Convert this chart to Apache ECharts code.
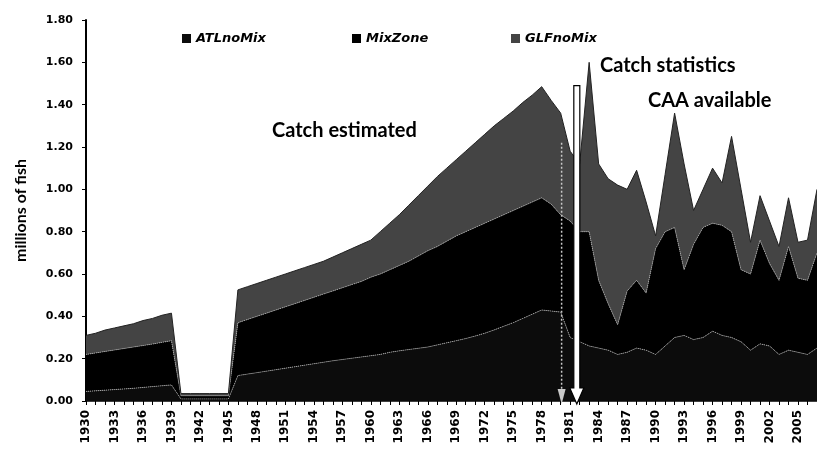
<!DOCTYPE html>
<html>
<head>
<meta charset="utf-8">
<script src="https://cdn.jsdelivr.net/npm/echarts@6/dist/echarts.min.js"></script>
<style>
  html, body { margin: 0; padding: 0; background: #fff; }
  #chart { width: 817px; height: 467px; }
</style>
</head>
<body>
<div id="chart"></div>
<script>
// years on the x axis
var years = []
for (var y = 1930; y <= 2007; y++) years.push(String(y))

// millions of fish, stacked bottom -> top
var atlNoMix = [
  0.045, 0.048, 0.051, 0.054, 0.057, 0.060, 0.064, 0.068, 0.072, 0.076,
  0.010, 0.010, 0.010, 0.010, 0.010, 0.010,
  0.120, 0.127, 0.134, 0.141, 0.148, 0.155, 0.162, 0.169, 0.176, 0.183,
  0.190, 0.196, 0.202, 0.208, 0.214, 0.220, 0.230, 0.237, 0.243, 0.249,
  0.255, 0.265, 0.275, 0.285, 0.295, 0.307, 0.320, 0.336, 0.353, 0.370,
  0.390, 0.410, 0.430, 0.425, 0.420, 0.300, 0.280, 0.260, 0.250, 0.240,
  0.220, 0.230, 0.250, 0.240, 0.220, 0.260, 0.300, 0.310, 0.290, 0.300,
  0.330, 0.310, 0.300, 0.280, 0.240, 0.270, 0.260, 0.220, 0.240, 0.230,
  0.220, 0.250
]
var mixZone = [
  0.175, 0.179, 0.183, 0.187, 0.191, 0.195, 0.198, 0.201, 0.205, 0.209,
  0.015, 0.015, 0.015, 0.015, 0.015, 0.015,
  0.250, 0.258, 0.266, 0.274, 0.282, 0.290, 0.298, 0.306, 0.314, 0.322,
  0.330, 0.339, 0.348, 0.357, 0.371, 0.380, 0.390, 0.403, 0.417, 0.436,
  0.455, 0.465, 0.480, 0.495, 0.505, 0.513, 0.520, 0.524, 0.527, 0.530,
  0.530, 0.530, 0.530, 0.505, 0.460, 0.550, 0.520, 0.540, 0.320, 0.220,
  0.140, 0.290, 0.320, 0.270, 0.500, 0.540, 0.520, 0.310, 0.450, 0.520,
  0.510, 0.520, 0.500, 0.340, 0.360, 0.490, 0.390, 0.350, 0.490, 0.350,
  0.350, 0.450
]
var glfNoMix = [
  0.090, 0.093, 0.101, 0.104, 0.107, 0.110, 0.118, 0.121, 0.128, 0.130,
  0.010, 0.010, 0.010, 0.010, 0.010, 0.010,
  0.155, 0.155, 0.155, 0.155, 0.155, 0.155, 0.155, 0.155, 0.155, 0.155,
  0.160, 0.165, 0.170, 0.175, 0.175, 0.200, 0.220, 0.240, 0.265, 0.285,
  0.305, 0.330, 0.345, 0.360, 0.380, 0.400, 0.420, 0.440, 0.455, 0.470,
  0.490, 0.505, 0.525, 0.490, 0.480, 0.330, 0.320, 0.800, 0.550, 0.590,
  0.660, 0.480, 0.520, 0.430, 0.060, 0.270, 0.540, 0.500, 0.160, 0.180,
  0.260, 0.200, 0.450, 0.380, 0.150, 0.210, 0.200, 0.160, 0.230, 0.170,
  0.190, 0.300
]

var chart = echarts.init(document.getElementById('chart'))

var legendText = {
  fontFamily: 'DejaVu Sans',
  fontWeight: 'bold',
  fontStyle: 'italic',
  fontSize: 13,
  color: '#000'
}
function legendAt(name, left) {
  return {
    data: [name], left: left, top: 27,
    icon: 'rect', itemWidth: 9, itemHeight: 9, itemGap: 0,
    textStyle: legendText
  }
}

function areaSeries(name, data, color, line) {
  return {
    name: name,
    type: 'line',
    stack: 'total',
    data: data,
    symbol: 'none',
    color: color,
    lineStyle: line,
    areaStyle: { color: color, opacity: 1 },
    emphasis: { disabled: true }
  }
}

var option = {
  animation: false,
  backgroundColor: '#fff',
  grid: { left: 86, right: -6, top: 20, bottom: 66 },
  legend: [
    legendAt('ATLnoMix', 177),
    legendAt('MixZone', 347),
    legendAt('GLFnoMix', 506)
  ],
  xAxis: {
    type: 'category',
    data: years,
    boundaryGap: false,
    axisLine: { lineStyle: { color: '#000', width: 1.5 } },
    axisTick: { show: true, interval: 0, length: 4, lineStyle: { color: '#000' } },
    axisLabel: {
      interval: 2,
      rotate: 90,
      margin: 9,
      color: '#000',
      fontFamily: 'DejaVu Sans',
      fontWeight: 'bold',
      fontSize: 12
    },
    splitLine: { show: false }
  },
  yAxis: {
    type: 'value',
    min: 0,
    max: 1.8,
    interval: 0.2,
    name: 'millions of fish',
    nameLocation: 'middle',
    nameGap: 57,
    nameTextStyle: { fontFamily: 'Lato', fontWeight: 'bold', fontSize: 16, color: '#000' },
    axisLine: { show: true, lineStyle: { color: '#000', width: 2 } },
    axisTick: { show: true, length: 4, lineStyle: { color: '#000' } },
    axisLabel: {
      margin: 13,
      color: '#000',
      fontFamily: 'DejaVu Sans',
      fontWeight: 'bold',
      fontSize: 11,
      formatter: function (v) { return v.toFixed(2) }
    },
    splitLine: { show: false }
  },
  series: [
    areaSeries('ATLnoMix', atlNoMix, '#0c0c0c', { color: '#a8a8a8', width: 1, type: 'dotted' }),
    areaSeries('MixZone', mixZone, '#000000', { color: '#a8a8a8', width: 1, type: 'dotted' }),
    areaSeries('GLFnoMix', glfNoMix, '#444444', { color: '#222', width: 1 })
  ]
}
chart.setOption(option)

// annotations: arrows at the switch from estimated catch to statistics
function pos(idx, val) {
  var i0 = Math.floor(idx)
  var f = idx - i0
  var a = chart.convertToPixel({ gridIndex: 0 }, [i0, val])
  var b = chart.convertToPixel({ gridIndex: 0 }, [i0 + 1, val])
  return [a[0] + (b[0] - a[0]) * f, a[1]]
}
var top1 = pos(51.7, 1.49)
var bot1 = pos(51.7, 0)
var top2 = pos(50.1, 1.22)
var bot2 = pos(50.1, 0)
var ax = top1[0]
var tipY = bot1[1] + 3

var texts = { fontFamily: 'Lato', fontWeight: 'bold', fontSize: 20, fill: '#000' }

chart.setOption({
  graphic: [
    {
      type: 'polyline',
      shape: { points: [[top2[0], top2[1]], [bot2[0], bot2[1] - 8]] },
      style: { stroke: '#c8c8c8', lineWidth: 1.5, lineDash: [2, 2] },
      z: 100
    },
    {
      type: 'polygon',
      shape: { points: [[bot2[0] - 4, bot2[1] - 12], [bot2[0] + 4, bot2[1] - 12], [bot2[0], bot2[1] + 3]] },
      style: { fill: '#c8c8c8' },
      z: 100
    },
    {
      type: 'polygon',
      shape: {
        points: [
          [ax - 3, top1[1]], [ax + 3, top1[1]], [ax + 3, tipY - 16],
          [ax + 7, tipY - 16], [ax, tipY], [ax - 7, tipY - 16], [ax - 3, tipY - 16]
        ]
      },
      style: { fill: '#fff', stroke: '#000', lineWidth: 1.2 },
      z: 101
    },
    { type: 'text', left: 272, top: 121, style: Object.assign({ text: 'Catch estimated' }, texts), z: 102 },
    { type: 'text', left: 600, top: 56, style: Object.assign({ text: 'Catch statistics' }, texts), z: 102 },
    { type: 'text', left: 648, top: 91, style: Object.assign({ text: 'CAA available' }, texts), z: 102 }
  ]
})
</script>
</body>
</html>
